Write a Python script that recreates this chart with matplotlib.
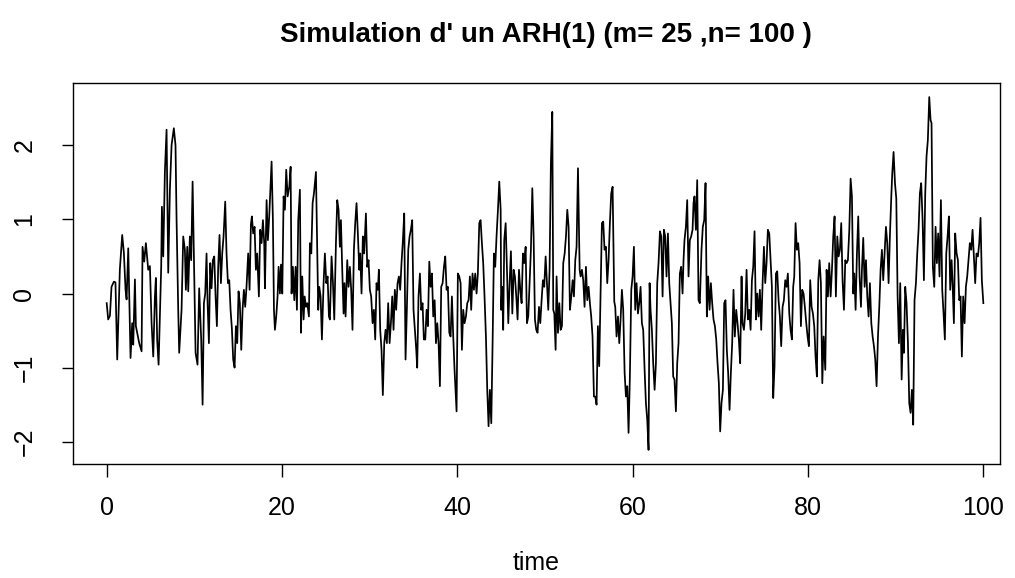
import matplotlib
matplotlib.use("Agg")
import matplotlib.pyplot as plt

title = "Simulation d' un ARH(1) (m= 25 ,n= 100 )"
xlabel = "time"
xticks = [0, 20, 40, 60, 80, 100]
yticks = [-2, -1, 0, 1, 2]

time = [
 0.0,0.17,0.37,0.55,0.82,1.0,1.2,1.5,1.77,1.96,2.15,2.27,2.46,2.72,2.91,3.03,3.22,3.33,3.48,3.71,3.98,
 4.09,4.28,4.47,4.74,4.93,5.12,5.31,5.5,5.61,5.76,5.92,6.07,6.22,6.3,6.45,6.64,6.83,7.02,7.21,7.4,7.66,
 7.85,7.97,8.16,8.27,8.54,8.73,8.92,9.03,9.19,9.3,9.49,9.64,9.8,9.99,10.14,10.36,10.55,10.78,10.94,11.09,
 11.24,11.39,11.51,11.66,11.81,11.96,12.11,12.27,12.42,12.57,12.72,12.87,13.03,13.18,13.33,13.52,13.67,
 13.83,13.98,14.13,14.28,14.43,14.59,14.74,14.89,15.04,15.19,15.35,15.5,15.65,15.8,15.95,16.14,16.3,16.45,
 16.56,16.71,16.87,17.02,17.17,17.36,17.51,17.67,17.82,17.97,
 18.05,18.24,18.39,18.54,18.81,18.96,19.08,19.19,19.34,19.49,19.61,19.76,19.88,20.03,20.18,20.33,20.48,
 20.64,20.83,20.98,21.09,21.24,21.4,21.55,21.7,21.85,22.04,22.16,22.31,22.46,22.58,22.73,22.88,23.07,
 23.18,23.34,23.49,23.64,23.87,24.02,24.13,24.25,24.4,24.55,24.74,24.89,25.05,25.2,25.35,25.46,25.65,
 25.81,25.96,26.15,26.3,26.45,26.6,26.72,26.87,27.02,
 27.12,27.25,27.44,27.59,27.74,27.89,28.04,28.2,28.35,28.5,28.65,28.81,28.92,29.07,29.22,29.37,29.57,
 29.72,29.87,30.02,30.17,30.33,30.48,30.63,30.78,30.93,31.05,31.2,31.35,31.5,31.66,31.81,31.96,32.11,
 32.27,32.42,32.57,32.72,32.87,33.02,33.18,33.33,33.48,33.63,33.79,33.94,34.09,34.24,34.4,34.55,34.7,
 34.85,35.0,35.16,35.31,35.42,35.57,35.73,35.88,36.03,36.18,
 36.34,36.49,36.64,36.8,36.95,37.1,37.25,37.41,37.56,37.71,37.86,38.01,38.16,38.32,38.47,38.62,38.77,
 38.92,39.08,39.23,39.38,39.53,39.68,39.91,40.06,40.22,40.37,40.52,40.67,40.82,40.98,41.13,41.28,41.43,
 41.58,41.73,41.89,42.04,42.19,42.34,42.5,42.65,42.8,42.95,43.1,43.26,43.41,43.56,43.71,43.87,44.02,
 44.17,44.32,44.47,44.63,44.78,44.94,45.0,45.11,45.23,45.35,
 45.51,45.66,45.81,45.96,46.11,46.27,46.42,46.57,46.72,46.87,47.03,47.18,47.33,47.48,47.63,47.79,47.94,
 48.09,48.24,48.39,48.55,48.7,48.85,49.0,49.15,49.31,49.46,49.61,49.76,49.91,50.07,50.22,50.37,50.52,
 50.67,50.83,50.94,51.06,51.21,51.32,51.48,51.63,51.78,51.93,52.08,52.24,52.39,52.54,52.69,52.84,53.0,
 53.15,53.3,53.45,53.6,53.76,53.95,54.06,54.21,
 54.36,54.51,54.67,54.82,54.97,55.12,55.27,55.42,55.58,55.73,55.88,56.03,56.18,56.34,56.49,56.64,56.79,
 56.95,57.1,57.25,57.4,57.55,57.71,57.9,58.01,58.16,58.32,58.47,58.62,58.77,58.92,59.08,59.23,59.38,
 59.53,59.68,59.84,59.99,60.14,60.29,60.44,60.6,60.75,60.9,61.05,61.2,61.36,61.51,61.66,61.81,61.93,
 62.04,62.19,62.34,62.5,62.65,62.8,62.95,63.11,63.26,63.41,63.56,
 63.71,63.86,64.02,64.17,64.32,64.47,64.62,64.77,64.93,65.08,65.23,65.38,65.53,65.69,65.8,65.91,66.07,
 66.22,66.37,66.52,66.67,66.83,66.94,67.05,67.21,67.36,67.51,67.66,67.85,68.0,68.16,68.31,68.46,68.61,
 68.77,68.92,69.07,69.22,69.38,69.53,69.68,69.83,69.98,70.13,70.29,70.44,70.59,70.74,70.89,71.05,71.2,
 71.35,71.5,71.65,71.81,71.96,72.11,72.26,72.42,72.53,
 72.69,72.84,72.99,73.14,73.3,73.45,73.6,73.75,73.9,74.06,74.21,74.36,74.51,74.66,74.82,74.97,75.12,
 75.27,75.42,75.58,75.73,75.88,76.03,76.18,76.34,76.49,76.64,76.79,76.94,77.1,77.25,77.4,77.55,77.7,
 77.86,78.01,78.16,78.31,78.43,78.58,78.73,78.88,79.04,79.19,79.34,79.49,79.64,79.8,79.95,80.1,80.25,
 80.41,80.56,80.71,80.86,81.01,81.17,81.32,81.47,81.63,81.78,
 81.97,82.12,82.27,82.42,82.58,82.73,82.88,83.03,83.18,83.34,83.49,83.64,83.79,83.94,84.1,84.25,84.4,
 84.55,84.71,84.86,85.01,85.16,85.28,85.43,85.58,85.73,85.88,86.04,86.15,86.3,86.46,86.61,86.76,86.91,
 87.06,87.22,87.37,87.52,87.67,87.82,87.98,88.13,88.28,88.43,88.58,88.73,88.89,89.04,89.19,89.34,89.5,
 89.61,89.76,89.92,90.07,90.22,90.37,90.52,90.68,90.83,90.94,
 91.09,91.24,91.4,91.55,91.7,91.85,92.0,92.15,92.31,92.46,92.61,92.76,92.91,93.07,93.22,93.37,93.52,
 93.67,93.83,93.98,94.09,94.24,94.4,94.55,94.7,94.85,95.0,95.16,95.31,95.46,95.61,95.77,95.92,96.07,
 96.22,96.38,96.49,96.64,96.79,96.95,97.1,97.25,97.4,97.55,97.7,97.86,98.01,98.16,98.31,98.46,98.62,
 98.77,98.92,99.07,99.22,99.38,99.53,99.68,99.83,100.0,
]

value = [
 -0.13,-0.35,-0.3,0.09,0.16,0.15,-0.89,0.32,0.79,0.55,0.05,-0.08,0.61,-0.87,-0.4,-0.69,0.19,-0.44,-0.53,-0.67,-0.78,
 0.63,0.43,0.68,0.32,0.37,-0.4,-0.85,-0.04,0.21,-0.63,-0.96,-0.27,0.37,1.17,0.5,1.65,2.21,0.28,1.4,2.0,2.23,
 2.0,1.0,-0.22,-0.8,-0.22,0.77,0.59,0.05,0.63,0.03,0.77,0.45,1.51,0.23,-0.8,-0.96,0.07,-0.62,-1.5,-0.13,
 0.0,0.54,-0.13,-0.67,0.41,0.07,0.45,0.5,-0.04,-0.44,0.36,0.79,0.14,0.54,0.77,1.24,0.54,
 0.14,0.18,-0.22,-0.47,-0.89,-1.0,-0.44,-0.67,0.03,-0.13,-0.76,-0.22,0.05,-0.18,0.09,0.54,0.05,0.93,
 1.04,0.81,0.9,0.32,0.54,-0.04,0.86,0.68,0.99,0.68,
 0.07,1.26,0.72,1.04,1.78,0.99,-0.22,-0.49,-0.31,-0.04,0.36,0.0,0.39,0.0,1.31,1.13,1.67,
 1.31,1.44,1.71,0.0,0.36,-0.09,0.36,-0.22,0.99,1.4,-0.53,0.23,-0.35,-0.04,-0.18,-0.13,-0.31,
 0.68,0.54,1.22,1.35,1.64,0.59,-0.22,0.09,-0.04,-0.62,0.14,0.54,0.14,0.23,-0.31,-0.35,0.5,
 0.14,-0.35,0.68,1.26,1.13,0.63,0.99,0.32,-0.27,
 0.14,-0.31,0.45,0.09,0.36,0.05,-0.49,0.59,0.95,1.22,0.81,0.32,0.54,0.0,0.77,0.54,1.08,
 0.36,0.45,0.05,-0.04,-0.4,-0.22,-0.62,0.14,0.05,0.32,-0.49,-0.76,-1.37,-0.67,-0.49,-0.67,-0.13,
 -0.67,-0.4,-0.04,-0.49,0.05,-0.22,0.14,0.23,0.05,0.41,0.72,1.08,-0.89,-0.22,0.59,0.77,0.86,
 0.99,-0.22,-0.49,-0.76,-1.0,-0.04,0.27,-0.22,-0.13,-0.62,
 -0.62,-0.22,-0.44,0.43,0.09,0.27,-0.31,-0.09,-0.67,-0.4,-0.67,-1.25,0.09,0.14,0.36,0.5,0.05,
 0.09,-0.53,-0.58,-0.04,-0.58,-1.03,-1.59,0.27,0.23,0.14,-0.76,-0.22,-0.4,-0.31,-0.13,-0.09,0.23,
 -0.22,0.27,0.05,0.27,0.0,0.27,0.95,0.99,0.68,0.41,-0.04,-0.58,-1.3,-1.79,-1.3,-1.75,-0.67,
 0.54,0.36,0.77,1.13,1.51,1.13,-0.22,0.09,-0.49,
 0.72,0.95,0.32,-0.4,0.14,0.57,-0.27,0.32,0.23,-0.04,-0.35,0.32,0.05,-0.13,0.54,0.41,0.63,
 -0.4,-0.31,0.14,0.59,1.42,0.77,-0.35,-0.49,-0.53,-0.18,-0.4,-0.09,0.18,0.09,0.5,0.14,-0.22,
 0.32,1.76,2.45,-0.22,-0.27,-0.76,0.23,-0.53,-0.13,-0.49,-0.44,0.41,0.54,0.77,1.13,0.9,-0.22,
 -0.04,0.18,-0.04,0.45,0.63,1.69,0.32,0.23,
 0.32,0.18,-0.18,0.36,-0.09,0.09,-0.13,-0.31,-0.58,-1.39,-1.39,-1.5,-0.44,-0.98,0.0,0.95,0.97,
 0.59,0.63,0.14,0.45,0.95,1.35,1.44,-0.11,-0.18,-0.58,-0.31,-0.67,-0.35,0.05,-0.22,-1.07,-1.39,
 -1.25,-1.88,-1.12,0.05,0.23,0.63,-0.22,0.14,-0.27,-0.13,0.09,-0.4,-0.49,-1.03,-1.48,-1.7,-2.11,
 0.14,-0.22,-0.49,-0.94,-1.3,-0.94,0.14,0.41,0.84,0.77,-0.04,
 0.86,0.77,0.23,0.81,0.14,-0.13,-0.4,-1.12,-1.16,-1.59,-0.94,-0.67,0.27,0.36,0.0,0.45,0.72,
 0.9,1.26,0.23,0.72,0.77,0.86,1.22,1.31,0.86,1.53,-0.09,-0.13,0.59,0.9,0.99,1.49,-0.31,0.23,
 -0.22,0.14,-0.13,-0.35,-0.44,-0.62,-0.94,-1.21,-1.86,-1.48,-1.3,-0.13,-0.09,-0.76,-1.07,-1.57,-1.07,
 -0.67,0.05,-0.58,-0.22,-0.4,-0.62,-0.94,0.23,-0.4,-0.49,
 -0.27,0.32,-0.35,-0.22,-0.49,0.18,0.36,0.84,-0.35,0.0,-0.31,0.05,-0.49,0.14,0.63,0.14,0.41,
 0.86,0.81,0.45,0.09,-1.41,-0.98,0.27,0.3,-0.09,-0.31,-0.71,-0.18,-0.09,0.18,0.09,0.27,-0.27,
 -0.49,-0.62,0.09,0.23,0.95,0.59,0.68,0.41,-0.44,0.05,0.0,-0.18,-0.4,-0.58,-0.71,0.18,-0.18,
 -0.27,-0.44,-0.85,-1.12,0.18,0.45,0.14,-1.21,-0.58,-1.03,
 0.32,-0.04,0.41,-0.04,0.32,0.77,1.04,-0.04,0.77,0.5,0.59,0.95,0.18,-0.22,0.45,0.41,0.45,
 0.86,1.55,1.31,0.0,0.27,-0.22,0.54,1.04,0.23,-0.18,0.32,0.75,0.09,0.45,-0.04,-0.31,0.14,
 -0.4,-0.58,-0.71,-0.89,-1.25,-0.58,-0.18,0.32,0.59,0.18,0.54,0.9,0.68,0.14,0.77,1.31,1.62,
 1.91,1.49,1.28,-0.04,-0.67,0.14,-1.16,-0.49,-0.8,0.09,
 -0.13,-0.67,-1.48,-1.61,-1.3,-1.77,-0.09,0.14,0.54,0.86,1.35,1.49,0.99,0.18,1.35,1.85,2.07,
 2.65,2.34,2.3,0.36,0.09,0.9,0.41,0.81,0.23,1.26,0.05,-0.27,-0.62,0.54,0.77,1.04,0.05,
 0.45,0.14,-0.4,0.81,0.54,0.45,-0.09,-0.04,-0.85,-0.04,-0.4,0.09,0.23,0.45,0.68,0.59,0.86,
 0.5,0.14,0.54,0.5,0.68,1.02,0.18,-0.13,0.05,
]

n = min(len(time), len(value))
time = time[:n]
value = value[:n]

plt.rcParams['font.family'] = ['Liberation Sans', 'DejaVu Sans']

fig = plt.figure(figsize=(10.15, 5.78), dpi=100)
ax = fig.add_axes([72.5/1015, 1-464/578, (1000-72.5)/1015, (464-83)/578])
ax.plot(time, value, color='black', lw=1.25)
ax.set_xlim(-3.9, 101.9)
ax.set_ylim(-2.30, 2.84)
ax.set_xticks(xticks)
ax.set_yticks(yticks)
ax.set_xticklabels([str(t) for t in xticks], fontsize=18)
ax.set_yticklabels([str(t).replace('-', '\u2212') for t in yticks], fontsize=18, rotation=90, va='center')
ax.tick_params(axis='x', length=9, width=1, pad=14)
ax.tick_params(axis='y', length=8, width=1, pad=18)
for s in ax.spines.values():
    s.set_linewidth(1.0)
ax.set_xlabel(xlabel, fontsize=18, labelpad=22)
fig.text(546/1015, 1-35/578, title, ha='center', va='center', fontsize=20, fontweight='bold')
fig.savefig('out.png', dpi=100)
